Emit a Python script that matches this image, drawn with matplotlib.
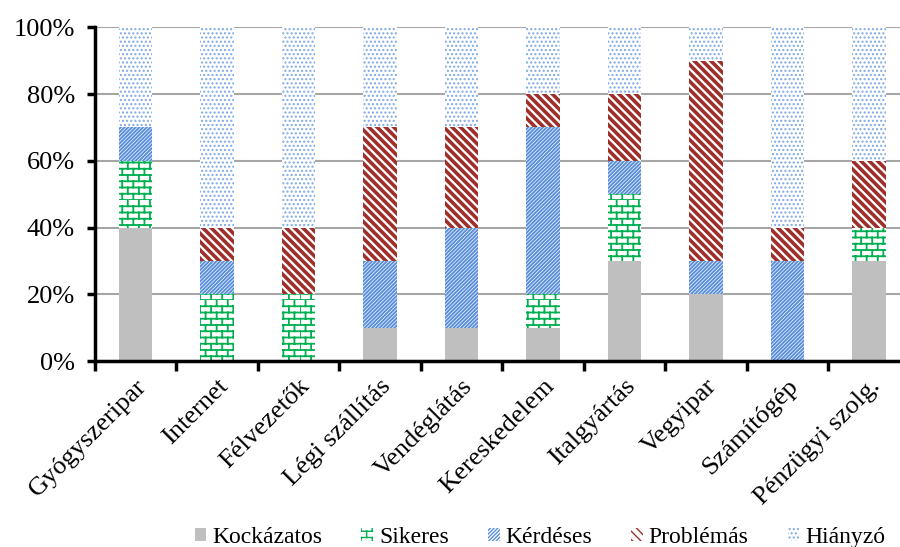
import warnings
import numpy as np
import matplotlib
matplotlib.use("Agg")
import matplotlib.pyplot as plt
import matplotlib.hatch as mhatch
from matplotlib.path import Path
from matplotlib.ticker import FixedLocator, PercentFormatter

warnings.filterwarnings("ignore")

# brick pattern for the "Sikeres" series (char 'b')
class Bricks(mhatch.HatchPatternBase):
    def __init__(self, hatch, density):
        self.rows = hatch.count('b') * 16
        self.cols = 9
        self.num_vertices = self.rows * (2 + 2 * self.cols)

    def set_vertices_and_codes(self, vertices, codes):
        k = 0
        for i in range(self.rows):
            y0 = i / self.rows
            y1 = (i + 1) / self.rows
            vertices[k] = (0, y0)
            vertices[k + 1] = (1, y0)
            k += 2
            for j in range(self.cols):
                x = (j + 0.5 * (i % 2)) / self.cols
                vertices[k] = (x, y0)
                vertices[k + 1] = (x, y1)
                k += 2
        codes[0::2] = Path.MOVETO
        codes[1::2] = Path.LINETO

mhatch._hatch_types.append(Bricks)

plt.rcParams['font.family'] = ['Liberation Serif', 'DejaVu Serif']

kategoriak = ['Gyógyszeripar', 'Internet', 'Félvezetők', 'Légi szállítás',
              'Vendéglátás', 'Kereskedelem', 'Italgyártás', 'Vegyipar',
              'Számítógép', 'Pénzügyi szolg.']

kockazatos = [40, 0, 0, 10, 10, 10, 30, 20, 0, 30]
sikeres    = [20, 20, 20, 0, 0, 10, 20, 0, 0, 10]
kerdeses   = [10, 10, 0, 20, 30, 50, 10, 10, 30, 0]
problemas  = [0, 10, 20, 40, 30, 10, 20, 60, 10, 20]
hianyzo    = [30, 60, 60, 30, 30, 20, 20, 10, 60, 40]

sorozatok = [
    ('Kockázatos', kockazatos, dict(color='#BFBFBF')),
    ('Sikeres', sikeres, dict(facecolor='white', edgecolor='#00B050', hatch='b', hlw=1.3)),
    ('Kérdéses', kerdeses, dict(facecolor='white', edgecolor='#5A8FDC', hatch='/' * 9, hlw=1.4)),
    ('Problémás', problemas, dict(facecolor='white', edgecolor='#9E2F2B', hatch='\\' * 4, hlw=2.6)),
    ('Hiányzó', hianyzo, dict(facecolor='white', edgecolor='#7FA8E6', hatch='....', hlw=1.0)),
]

fig = plt.figure(figsize=(9.0, 5.47), dpi=100)
ax = fig.add_axes([0.105, 0.34, 0.895, 0.61])

x = np.arange(len(kategoriak))
alap = np.zeros(len(kategoriak))
for nev, ertekek, stilus in sorozatok:
    st = dict(stilus)
    hlw = st.pop('hlw', 1.0)
    with plt.rc_context({'hatch.linewidth': hlw}):
        bars = ax.bar(x, ertekek, 0.41, bottom=alap, label=nev, linewidth=0, zorder=2, **st)
        for b in bars:
            if hasattr(b, 'set_hatch_linewidth'):
                b.set_hatch_linewidth(hlw)
    alap += np.array(ertekek)

ax.set_ylim(0, 100)
ax.set_xlim(-0.5, 9.38)
ax.yaxis.set_major_locator(FixedLocator([0, 20, 40, 60, 80, 100]))
ax.yaxis.set_major_formatter(PercentFormatter(decimals=0))
ax.yaxis.grid(True, color='#A6A6A6', linewidth=1.5, zorder=0)
ax.set_axisbelow(True)

ax.set_xticks(x)
ax.set_xticklabels(kategoriak, rotation=45, ha='right', rotation_mode='anchor', fontsize=19)
ax.tick_params(axis='x', length=0, pad=10)
ax.set_xticks(np.arange(-0.5, 9.5, 1), minor=True)
ax.tick_params(axis='x', which='minor', length=7, width=2.5, direction='out')
ax.tick_params(axis='y', labelsize=19, length=6, width=2.5, direction='out', pad=8)

for s in ['top', 'right']:
    ax.spines[s].set_visible(False)
ax.spines['left'].set_linewidth(2.5)
ax.spines['bottom'].set_linewidth(2.5)

fig.legend(loc='lower center', bbox_to_anchor=(0.6, -0.04), ncol=5, frameon=False,
           fontsize=17, handlelength=0.5, handleheight=0.5, handletextpad=0.25,
           columnspacing=1.65)

fig.savefig('out.png', dpi=100)
